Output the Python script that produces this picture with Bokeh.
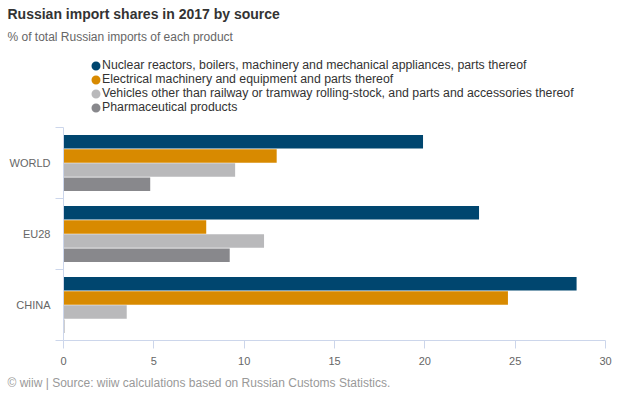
from bokeh.plotting import figure
from bokeh.layouts import column
from bokeh.models import (ColumnDataSource, FactorRange, Range1d, LinearAxis, CategoricalAxis,
                          FixedTicker, Title, Legend, LegendItem)
from bokeh.transform import dodge
from bokeh.embed import file_html
from bokeh.resources import INLINE

# data
regions = ["WORLD", "EU28", "CHINA"]
products = [
    "Nuclear reactors, boilers, machinery and mechanical appliances, parts thereof",
    "Electrical machinery and equipment and parts thereof",
    "Vehicles other than railway or tramway rolling-stock, and parts and accessories thereof",
    "Pharmaceutical products",
]
nuclear = [19.9, 23.0, 28.4]
electrical = [11.8, 7.9, 24.6]
vehicles = [9.5, 11.1, 3.5]
pharma = [4.8, 9.2, 0.05]
x_ticks = [0, 5, 10, 15, 20, 25, 30]

colors = ["#00466f", "#d88a00", "#b9b9bb", "#88888c"]
offsets = [0.3, 0.1, -0.1, -0.3]
FONT = "Liberation Sans"
AXIS = "#ccd6eb"
W = 612

# ---- header: title, subtitle and legend ----
head = figure(width=W, height=116, x_range=Range1d(0, 1), y_range=Range1d(0, 1),
              x_axis_location=None, y_axis_location=None,
              output_backend="svg", toolbar_location=None,
              min_border_left=63, min_border_right=7, min_border_top=0, min_border_bottom=0)
head.outline_line_color = None
head.grid.grid_line_color = None

subtitle = Title(text="% of total Russian imports of each product", align="left", offset=-56,
                 standoff=4, text_font=FONT, text_font_size="12px", text_font_style="normal",
                 text_color="#666666")
head.add_layout(subtitle, "above")
title = Title(text="Russian import shares in 2017 by source", align="left", offset=-56,
              standoff=7, text_font=FONT, text_font_size="14px", text_font_style="bold",
              text_color="#333333")
head.add_layout(title, "above")

# legend proxies: one point each, kept outside the header's visible range
proxy = ColumnDataSource(dict(x=[0.5], y=[2.0]))
items = []
for name, color in zip(products, colors):
    r = head.scatter("x", "y", source=proxy, marker="circle", fill_color=color,
                     line_color=color, line_width=3.8)
    items.append(LegendItem(label=name, renderers=[r]))
legend = Legend(items=items, location=(26, 2), orientation="vertical",
                glyph_width=13, glyph_height=13, spacing=0, label_standoff=0,
                padding=0, margin=0, border_line_color=None, background_fill_alpha=0,
                label_text_font=FONT, label_text_font_size="12.3px",
                label_text_color="#333333", label_height=13)
head.add_layout(legend)

# ---- bar chart ----
source = ColumnDataSource(dict(region=regions, nuclear=nuclear, electrical=electrical,
                               vehicles=vehicles, pharma=pharma))

p = figure(width=W, height=280,
           y_range=FactorRange(factors=regions[::-1], range_padding=0),
           x_range=Range1d(0, 30),
           y_axis_location=None,
           output_backend="svg", toolbar_location=None,
           min_border_left=63, min_border_right=7, min_border_top=11, min_border_bottom=47)
p.outline_line_color = None
p.grid.grid_line_color = None

for col, color, off in zip(["nuclear", "electrical", "vehicles", "pharma"], colors, offsets):
    p.hbar(y=dodge("region", off, range=p.y_range), left=0, right=col, height=0.19,
           source=source, fill_color=color, line_color=None)

p.xaxis.ticker = FixedTicker(ticks=x_ticks)
p.xaxis.axis_line_color = AXIS
p.xaxis.major_tick_line_color = AXIS
p.xaxis.major_tick_out = 8
p.xaxis.major_tick_in = 0
p.xaxis.minor_tick_line_color = None
p.xaxis.major_label_standoff = 8
p.xaxis.major_label_text_font = FONT
p.xaxis.major_label_text_font_size = "11px"
p.xaxis.major_label_text_color = "#666666"

# ticks on the boundaries between categories (synthetic positions 0..3)
band_axis = LinearAxis(ticker=FixedTicker(ticks=[0, 1, 2, 3]),
                       major_label_overrides={0: "", 1: "", 2: "", 3: ""},
                       axis_line_color=AXIS, major_tick_line_color=AXIS,
                       major_tick_out=8, major_tick_in=0, minor_tick_line_color=None,
                       major_label_standoff=0)
p.add_layout(band_axis, "left")

cat_axis = CategoricalAxis(axis_line_color=None, major_tick_line_color=None,
                           major_tick_out=0, major_tick_in=0, major_label_standoff=5,
                           major_label_text_font=FONT, major_label_text_font_size="11px",
                           major_label_text_color="#666666")
p.add_layout(cat_axis, "left")

footer = Title(text="\u00a9 wiiw | Source: wiiw calculations based on Russian Customs Statistics.",
               align="left", offset=-56, standoff=13, text_font=FONT, text_font_size="12px",
               text_font_style="normal", text_color="#999999")
p.add_layout(footer, "below")

open("out.html", "w").write(file_html(column(head, p), INLINE))
